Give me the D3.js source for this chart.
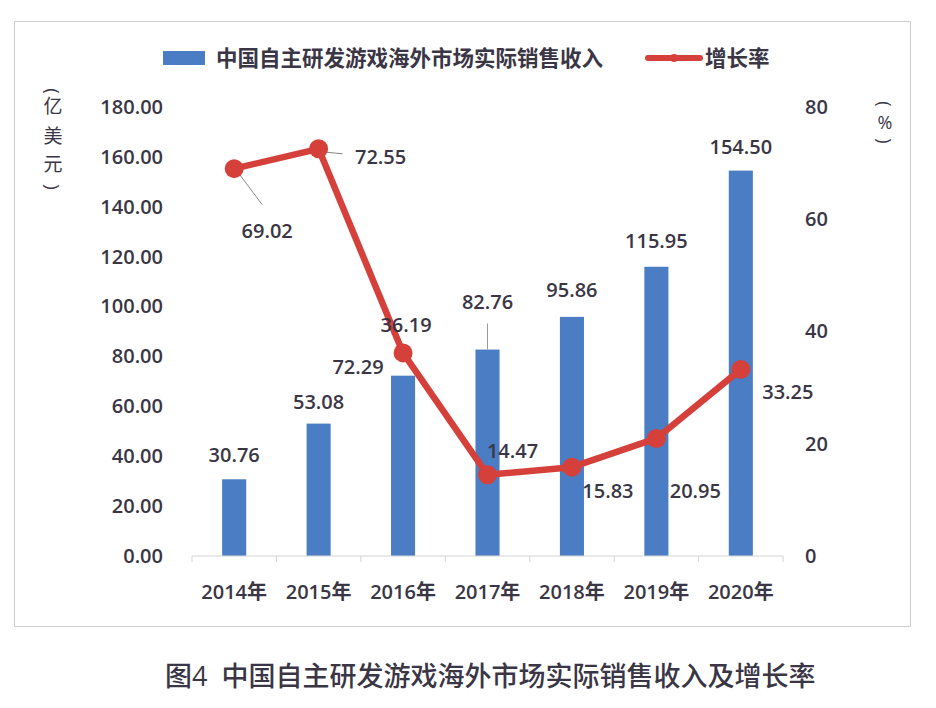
<!DOCTYPE html>
<html>
<head>
<meta charset="utf-8">
<script src="https://cdn.jsdelivr.net/npm/d3@7"></script>
<style>
  body { margin: 0; background: #fff; }
  text { font-family: "Open Sans", "Noto Sans CJK SC", sans-serif; fill: #3a3646; }
</style>
</head>
<body>
<svg id="chart" width="936" height="708"></svg>
<script>
const years = ["2014年", "2015年", "2016年", "2017年", "2018年", "2019年", "2020年"];
const revenue = [30.76, 53.08, 72.29, 82.76, 95.86, 115.95, 154.5];
const growth = [69.02, 72.55, 36.19, 14.47, 15.83, 20.95, 33.25];
const leftTicks = [0, 20, 40, 60, 80, 100, 120, 140, 160, 180];
const rightTicks = [0, 20, 40, 60, 80];
const barName = "中国自主研发游戏海外市场实际销售收入";
const lineName = "增长率";
const caption = "图4  中国自主研发游戏海外市场实际销售收入及增长率";

// label placement offsets (px) relative to the mark
const barLabelOff = [[0, -24], [0, -22], [-45, -9], [0, -48], [0, -27], [0, -26], [0, -24]];
const lineLabelOff = [[33, 62], [62, 8], [3, -28], [25, -24], [36, 24], [39, 53], [47, 23]];

const blue = "#4a7dc4";
const red = "#d6403b";

const svg = d3.select("#chart");
const margin = { top: 107, left: 192, right: 783, bottom: 556 };

// frame
svg.append("rect")
  .attr("x", 14.5).attr("y", 21.5)
  .attr("width", 896).attr("height", 605)
  .attr("fill", "none").attr("stroke", "#cfcfcf");

const x = d3.scaleBand().domain(years).range([margin.left, margin.right]).paddingInner(0.715).paddingOuter(0.357);
const yL = d3.scaleLinear().domain([0, 180]).range([margin.bottom, margin.top]);
const yR = d3.scaleLinear().domain([0, 80]).range([margin.bottom, margin.top]);

// left axis labels
svg.append("g")
  .attr("transform", `translate(${margin.left - 29},0)`)
  .call(d3.axisLeft(yL).tickValues(leftTicks).tickFormat(d3.format(".2f")).tickSize(0).tickPadding(0))
  .call(g => g.select(".domain").remove())
  .call(g => g.selectAll("text").attr("font-size", 20).attr("font-weight", 600).attr("fill", "#3a3646")
    .attr("font-family", "'Open Sans', sans-serif"));

// right axis labels
svg.append("g")
  .attr("transform", `translate(${margin.right + 22},0)`)
  .call(d3.axisRight(yR).tickValues(rightTicks).tickSize(0).tickPadding(0))
  .call(g => g.select(".domain").remove())
  .call(g => g.selectAll("text").attr("font-size", 20).attr("font-weight", 600).attr("fill", "#3a3646")
    .attr("font-family", "'Open Sans', sans-serif"));

// bars
svg.append("g").selectAll("rect").data(revenue).join("rect")
  .attr("x", (d, i) => x(years[i]))
  .attr("y", d => yL(d))
  .attr("width", x.bandwidth())
  .attr("height", d => yL(0) - yL(d))
  .attr("fill", blue);

// x axis
const xAxis = svg.append("g").attr("transform", `translate(0,${margin.bottom})`);
xAxis.append("line")
  .attr("x1", margin.left).attr("x2", margin.right)
  .attr("stroke", "#d4d4d4");
const step = x.step();
xAxis.selectAll("line.tk").data(d3.range(years.length + 1)).join("line")
  .attr("class", "tk")
  .attr("x1", i => margin.left + i * step).attr("x2", i => margin.left + i * step)
  .attr("y1", 0).attr("y2", 6).attr("stroke", "#d4d4d4");
xAxis.selectAll("text").data(years).join("text")
  .attr("x", d => x(d) + x.bandwidth() / 2)
  .attr("y", 43)
  .attr("text-anchor", "middle")
  .attr("font-size", 20).attr("font-weight", 600)
  .text(d => d);

// bar labels
svg.append("g").selectAll("text").data(revenue).join("text")
  .attr("x", (d, i) => x(years[i]) + x.bandwidth() / 2 + barLabelOff[i][0])
  .attr("y", (d, i) => yL(d) + barLabelOff[i][1])
  .attr("dy", "0.35em")
  .attr("text-anchor", "middle")
  .attr("font-size", 20).attr("font-weight", 600)
  .text(d => d.toFixed(2));

// leader for 2017 bar label
const cx = i => x(years[i]) + x.bandwidth() / 2;
svg.append("line")
  .attr("x1", cx(3)).attr("x2", cx(3))
  .attr("y1", yL(revenue[3])).attr("y2", yL(revenue[3]) - 26)
  .attr("stroke", "#999").attr("stroke-width", 1);

// leaders for growth labels
svg.append("line")
  .attr("x1", cx(0) + 4).attr("y1", yR(growth[0]) + 4)
  .attr("x2", cx(0) + 28).attr("y2", yR(growth[0]) + 36)
  .attr("stroke", "#888").attr("stroke-width", 1);
svg.append("line")
  .attr("x1", cx(1) + 4).attr("y1", yR(growth[1]) + 3)
  .attr("x2", cx(1) + 24).attr("y2", yR(growth[1]) + 5)
  .attr("stroke", "#888").attr("stroke-width", 1);

// growth line
const line = d3.line().x((d, i) => cx(i)).y(d => yR(d));
svg.append("path").datum(growth)
  .attr("d", line)
  .attr("fill", "none").attr("stroke", red).attr("stroke-width", 6.5)
  .attr("stroke-linejoin", "round");
svg.append("g").selectAll("circle").data(growth).join("circle")
  .attr("cx", (d, i) => cx(i)).attr("cy", d => yR(d))
  .attr("r", 9.5).attr("fill", red);

svg.append("g").selectAll("text").data(growth).join("text")
  .attr("x", (d, i) => cx(i) + lineLabelOff[i][0])
  .attr("y", (d, i) => yR(d) + lineLabelOff[i][1])
  .attr("dy", "0.35em")
  .attr("text-anchor", "middle")
  .attr("font-size", 20).attr("font-weight", 600)
  .text(d => d.toFixed(2));

// axis titles (vertical, brackets rotated)
function vTitle(chars, xPos, ys, size) {
  const g = svg.append("g");
  g.selectAll("text").data(chars).join("text")
    .attr("transform", (d, i) => `translate(${xPos},${ys[i]})` + ((d === "(" || d === ")") ? " rotate(90)" : ""))
    .attr("dominant-baseline", "central")
    .attr("text-anchor", "middle")
    .attr("font-size", size)
    .attr("font-family", d => (d === "(" || d === ")") ? "'DejaVu Sans', sans-serif" : "'Noto Sans CJK SC', sans-serif")
    .text(d => d);
}
vTitle(["(", "亿", "美", "元", ")"], 53, [91, 106, 136, 164, 187], 19);
vTitle(["(", "%", ")"], 885, [104, 122, 141], 18);

// legend
const lg = svg.append("g");
lg.append("rect").attr("x", 163).attr("y", 51).attr("width", 42).attr("height", 14).attr("fill", blue);
lg.append("text").attr("x", 216).attr("y", 58).attr("dy", "0.35em")
  .attr("font-size", 21.5).attr("font-weight", 600)
  .attr("font-family", "'Noto Sans CJK SC', sans-serif")
  .text(barName);
lg.append("line").attr("x1", 648).attr("x2", 700).attr("y1", 58).attr("y2", 58)
  .attr("stroke", red).attr("stroke-width", 6).attr("stroke-linecap", "round");
lg.append("circle").attr("cx", 674).attr("cy", 58).attr("r", 4).attr("fill", red);
lg.append("text").attr("x", 705).attr("y", 58).attr("dy", "0.35em")
  .attr("font-size", 21.5).attr("font-weight", 600)
  .attr("font-family", "'Noto Sans CJK SC', sans-serif")
  .text(lineName);

// caption
svg.append("text")
  .attr("x", 165).attr("y", 677).attr("dy", "0.35em")
  .attr("font-size", 27)
  .attr("font-weight", 500)
  .attr("font-family", "'Noto Sans CJK SC', sans-serif")
  .attr("fill", "#222")
  .style("white-space", "pre")
  .text(caption);
</script>
</body>
</html>
